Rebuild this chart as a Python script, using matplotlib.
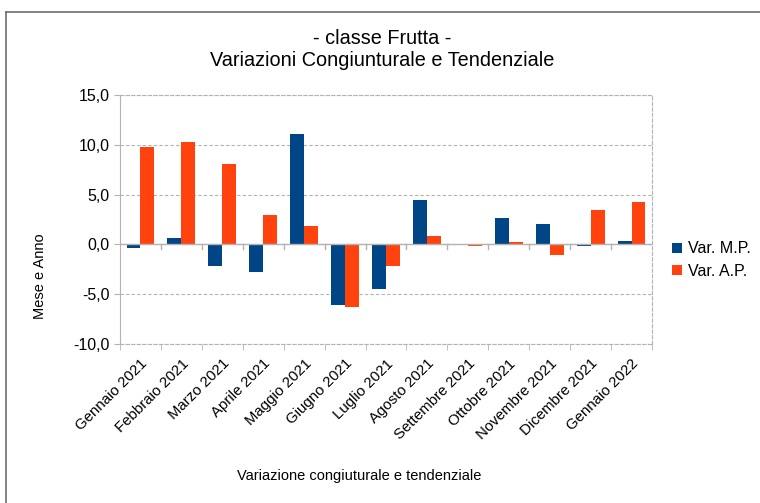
import numpy as np
import matplotlib
matplotlib.use('Agg')
from matplotlib import pyplot as plt
from matplotlib.lines import Line2D
from matplotlib.ticker import FuncFormatter

mesi = ['Gennaio 2021', 'Febbraio 2021', 'Marzo 2021', 'Aprile 2021', 'Maggio 2021',
        'Giugno 2021', 'Luglio 2021', 'Agosto 2021', 'Settembre 2021', 'Ottobre 2021',
        'Novembre 2021', 'Dicembre 2021', 'Gennaio 2022']
var_mp = [-0.4, 0.6, -2.2, -2.8, 11.1, -6.1, -4.5, 4.5, -0.1, 2.7, 2.0, -0.2, 0.3]
var_ap = [9.8, 10.3, 8.1, 3.0, 1.8, -6.3, -2.2, 0.8, -0.2, 0.2, -1.1, 3.5, 4.3]

plt.rcParams['font.family'] = ['Liberation Sans', 'DejaVu Sans']

fig = plt.figure(figsize=(7.6, 5.03), dpi=100)
# bordo parziale (solo in alto e a sinistra, come nello screenshot)
fig.add_artist(Line2D([6 / 760, 1], [1 - 12 / 503, 1 - 12 / 503], color='#6e6e6e', linewidth=1.2))
fig.add_artist(Line2D([6 / 760, 6 / 760], [0, 1 - 12 / 503], color='#6e6e6e', linewidth=1.2))

ax = fig.add_axes([120 / 760, 1 - 344 / 503, 532 / 760, 249 / 503])

x = np.arange(len(mesi))
w = 0.34
ax.bar(x - w / 2, var_mp, w, color='#004586', label='Var. M.P.', zorder=3)
ax.bar(x + w / 2, var_ap, w, color='#ff420e', label='Var. A.P.', zorder=3)

ax.set_xlim(-0.5, len(mesi) - 0.5)
ax.set_ylim(-10, 15)
ax.set_yticks(np.arange(-10, 16, 5))
ax.yaxis.set_major_formatter(FuncFormatter(lambda v, p: f'{v:.1f}'.replace('.', ',')))
ax.grid(axis='y', color='#b3b3b3', linestyle=(0, (3, 2)), linewidth=0.8, zorder=0)

for s in ['top', 'right', 'bottom']:
    ax.spines[s].set_color('#b3b3b3')
    ax.spines[s].set_linestyle((0, (3, 2)))
    ax.spines[s].set_linewidth(0.8)
ax.spines['left'].set_color('#b3b3b3')
ax.axhline(0, color='#b3b3b3', linewidth=1, zorder=4)

# tacche delle categorie sulla linea dello zero
for b in np.arange(0.5, len(mesi) - 0.5, 1):
    ax.plot([b, b], [0, -0.5], color='#b3b3b3', linewidth=1, zorder=4, clip_on=False)

ax.set_xticks(x)
ax.set_xticklabels(mesi, rotation=45, ha='right', rotation_mode='anchor', fontsize=10.8)
ax.set_xticks(np.arange(-0.5, len(mesi), 1), minor=True)
ax.tick_params(axis='x', which='major', length=0, pad=9)
ax.tick_params(axis='x', which='minor', length=4, color='#b3b3b3')
ax.tick_params(axis='y', length=4, color='#b3b3b3', labelsize=11.5)

fig.text(382 / 760, 1 - 38 / 503, '- classe Frutta -', ha='center', va='center', fontsize=14.3)
fig.text(382 / 760, 1 - 60 / 503, 'Variazioni Congiunturale e Tendenziale', ha='center', va='center', fontsize=14.3)
fig.text(40 / 760, 1 - 276 / 503, 'Mese e Anno', rotation=90, ha='center', va='center', fontsize=10.5)
fig.text(359 / 760, 1 - 476 / 503, 'Variazione congiuturale e tendenziale', ha='center', va='center', fontsize=10.5)

fig.legend(loc='center left', bbox_to_anchor=(658 / 760, 1 - 260 / 503), frameon=False,
           fontsize=11.5, handlelength=0.6, handleheight=0.6, handletextpad=0.35, labelspacing=0.45)

plt.savefig('out.png', dpi=100)
